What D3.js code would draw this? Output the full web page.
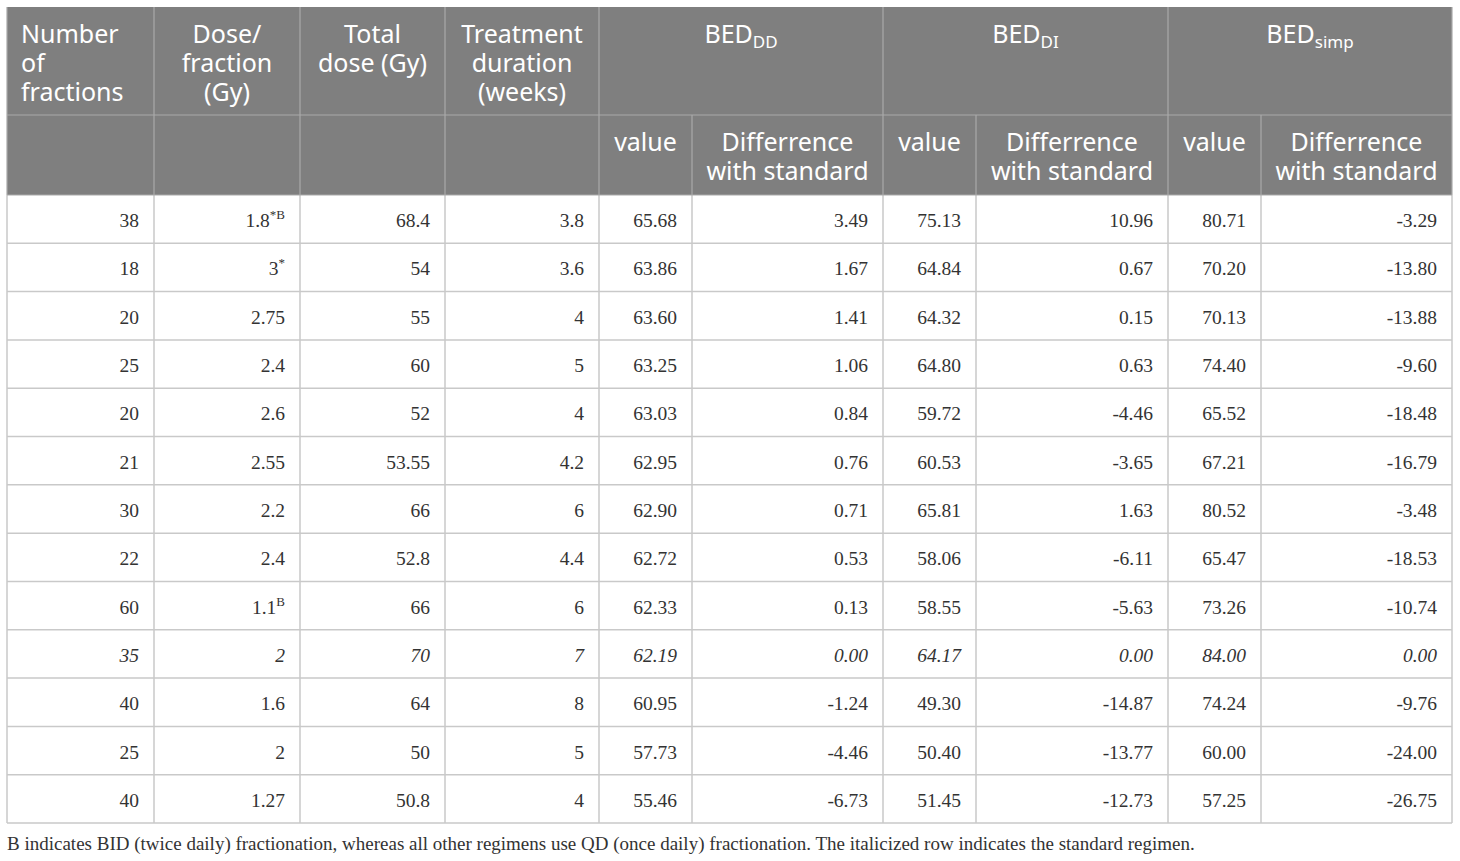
<!DOCTYPE html>
<html>
<head>
<meta charset="utf-8">
<script src="https://cdn.jsdelivr.net/npm/d3@7"></script>
<style>
  body { margin: 0; background: #fff; }
  svg { display: block; }
</style>
</head>
<body>
<svg width="1460" height="861"></svg>
<script>
// table data
var nFractions = [38, 18, 20, 25, 20, 21, 30, 22, 60, 35, 40, 25, 40];
var dosePerFraction = [1.8, 3, 2.75, 2.4, 2.6, 2.55, 2.2, 2.4, 1.1, 2, 1.6, 2, 1.27];
var doseNote = ["*B", "*", "", "", "", "", "", "", "B", "", "", "", ""];
var totalDose = [68.4, 54, 55, 60, 52, 53.55, 66, 52.8, 66, 70, 64, 50, 50.8];
var duration = [3.8, 3.6, 4, 5, 4, 4.2, 6, 4.4, 6, 7, 8, 5, 4];
var bedDD = [65.68, 63.86, 63.60, 63.25, 63.03, 62.95, 62.90, 62.72, 62.33, 62.19, 60.95, 57.73, 55.46];
var diffDD = [3.49, 1.67, 1.41, 1.06, 0.84, 0.76, 0.71, 0.53, 0.13, 0.00, -1.24, -4.46, -6.73];
var bedDI = [75.13, 64.84, 64.32, 64.80, 59.72, 60.53, 65.81, 58.06, 58.55, 64.17, 49.30, 50.40, 51.45];
var diffDI = [10.96, 0.67, 0.15, 0.63, -4.46, -3.65, 1.63, -6.11, -5.63, 0.00, -14.87, -13.77, -12.73];
var bedSimp = [80.71, 70.20, 70.13, 74.40, 65.52, 67.21, 80.52, 65.47, 73.26, 84.00, 74.24, 60.00, 57.25];
var diffSimp = [-3.29, -13.80, -13.88, -9.60, -18.48, -16.79, -3.48, -18.53, -10.74, 0.00, -9.76, -24.00, -26.75];
var standardRow = 9;

var topHeaders = [["Number", "of", "fractions"], ["Dose/", "fraction", "(Gy)"], ["Total", "dose (Gy)"], ["Treatment", "duration", "(weeks)"]];
var groupHeaders = [["BED", "DD"], ["BED", "DI"], ["BED", "simp"]];
var subHeaders = [["value"], ["Differrence", "with standard"]];
var footnote = "B indicates BID (twice daily) fractionation, whereas all other regimens use QD (once daily) fractionation. The italicized row indicates the standard regimen.";

var colWidths = [147, 146, 145, 154, 93, 191, 93, 192, 93, 191];
var tLeft = 7, tTop = 7, head1 = 108, head2 = 80, tBottom = 823;

var svg = d3.select("svg");
var f2 = function(d) { return d.toFixed(2); };

var edges = [tLeft];
colWidths.forEach(function(w, i) { edges.push(edges[i] + w); });
var tRight = edges[edges.length - 1];

var y = d3.scaleBand()
  .domain(d3.range(nFractions.length))
  .range([tTop + head1 + head2, tBottom]);

var hdrFont = "'Noto Sans', 'Open Sans', sans-serif";
var bodyFont = "'Liberation Serif', 'Times New Roman', serif";
var hdrSize = 25;

// header background
svg.append("rect")
  .attr("x", tLeft).attr("y", tTop)
  .attr("width", tRight - tLeft).attr("height", head1 + head2)
  .attr("fill", "#7f7f7f");

var columns = [
  { vals: nFractions, fmt: String },
  { vals: dosePerFraction, fmt: String, note: doseNote },
  { vals: totalDose, fmt: String },
  { vals: duration, fmt: String },
  { vals: bedDD, fmt: f2 },
  { vals: diffDD, fmt: f2 },
  { vals: bedDI, fmt: f2 },
  { vals: diffDI, fmt: f2 },
  { vals: bedSimp, fmt: f2 },
  { vals: diffSimp, fmt: f2 }
];

// grid lines body
var gridColor = "#c9c9c9";
var g = svg.append("g");
y.domain().forEach(function(i) {
  g.append("line")
    .attr("x1", tLeft).attr("x2", tRight)
    .attr("y1", y(i) + y.bandwidth()).attr("y2", y(i) + y.bandwidth())
    .attr("stroke", gridColor).attr("stroke-width", 1.5);
});
edges.forEach(function(x) {
  g.append("line")
    .attr("x1", x).attr("x2", x)
    .attr("y1", tTop + head1 + head2).attr("y2", tBottom)
    .attr("stroke", gridColor).attr("stroke-width", 1.5);
});

// header grid lines
var hLine = "#a9a9a9";
var hg = svg.append("g");
hg.append("line")
  .attr("x1", tLeft).attr("x2", tRight)
  .attr("y1", tTop + head1).attr("y2", tTop + head1)
  .attr("stroke", hLine).attr("stroke-width", 1.2);
edges.forEach(function(x, i) {
  var spanTop = (i > 4 && i % 2 === 1) ? tTop + head1 : tTop;
  hg.append("line")
    .attr("x1", x).attr("x2", x)
    .attr("y1", spanTop).attr("y2", tTop + head1 + head2)
    .attr("stroke", hLine).attr("stroke-width", 1.2);
});
hg.append("line")
  .attr("x1", tLeft).attr("x2", tRight)
  .attr("y1", tTop + head1 + head2).attr("y2", tTop + head1 + head2)
  .attr("stroke", hLine).attr("stroke-width", 1.2);

// top-left header texts
topHeaders.forEach(function(lines, i) {
  var x0 = edges[i], x1 = edges[i + 1];
  var t = svg.append("text")
    .attr("font-family", hdrFont).attr("font-size", hdrSize)
    .attr("fill", "#fff")
    .attr("text-anchor", i === 0 ? "start" : "middle");
  lines.forEach(function(l, k) {
    t.append("tspan")
      .attr("x", i === 0 ? x0 + 14 : (x0 + x1) / 2)
      .attr("y", tTop + 36 + k * 29)
      .text(l);
  });
});

// group headers
groupHeaders.forEach(function(h, j) {
  var x0 = edges[4 + j * 2], x1 = edges[6 + j * 2];
  var t = svg.append("text")
    .attr("font-family", hdrFont).attr("font-size", hdrSize)
    .attr("fill", "#fff").attr("text-anchor", "middle")
    .attr("x", (x0 + x1) / 2).attr("y", tTop + 36);
  t.append("tspan").text(h[0]);
  t.append("tspan").attr("font-size", 17).attr("dy", 5).text(h[1]);
});

// sub headers
for (var j = 0; j < 3; j++) {
  subHeaders.forEach(function(lines, k) {
    var c = 4 + j * 2 + k;
    var t = svg.append("text")
      .attr("font-family", hdrFont).attr("font-size", hdrSize)
      .attr("fill", "#fff").attr("text-anchor", "middle");
    lines.forEach(function(l, m) {
      t.append("tspan")
        .attr("x", (edges[c] + edges[c + 1]) / 2)
        .attr("y", tTop + head1 + 36 + m * 29)
        .text(l);
    });
  });
}

// body cells, all right aligned
columns.forEach(function(col, c) {
  var txt = svg.append("g").selectAll("text")
    .data(col.vals)
    .join("text")
    .attr("x", edges[c + 1] - 15)
    .attr("y", function(d, i) { return y(i) + y.bandwidth() / 2 + 8; })
    .attr("text-anchor", "end")
    .attr("font-family", bodyFont).attr("font-size", 19.5)
    .attr("fill", "#333")
    .attr("font-style", function(d, i) { return i === standardRow ? "italic" : "normal"; });
  txt.append("tspan").text(function(d) { return col.fmt(d); });
  if (col.note) {
    txt.append("tspan")
      .attr("font-size", 13).attr("dy", -8)
      .text(function(d, i) { return col.note[i]; });
  }
});

// footnote
svg.append("text")
  .attr("x", tLeft).attr("y", 850)
  .attr("font-family", bodyFont).attr("font-size", 19)
  .attr("fill", "#333")
  .text(footnote);
</script>
</body>
</html>
